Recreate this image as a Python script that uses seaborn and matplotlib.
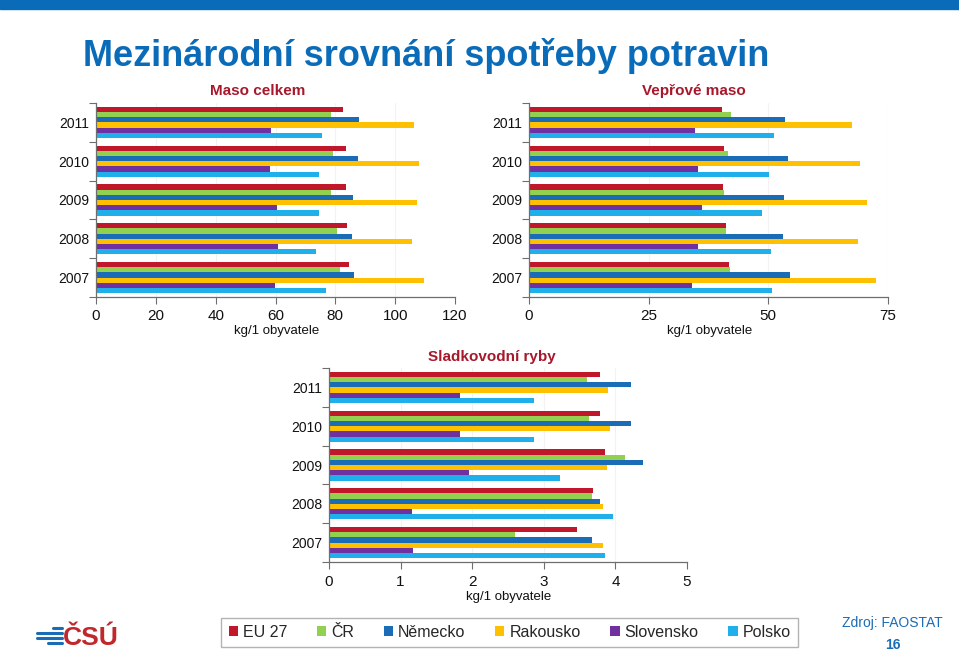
import matplotlib
matplotlib.use("Agg")
import matplotlib.pyplot as plt
import seaborn as sns
import pandas as pd
from matplotlib.patches import Patch, Rectangle
from matplotlib.lines import Line2D

years = ["2011", "2010", "2009", "2008", "2007"]
countries = ["EU 27", "ČR", "Německo", "Rakousko", "Slovensko", "Polsko"]
colors = ["#c0172a", "#92d050", "#1a6cb6", "#ffc000", "#7030a0", "#1fb0ec"]

# Maso celkem (kg/1 obyvatele), order of years as above
maso_eu = [82.6, 83.4, 83.7, 83.9, 84.6]
maso_cr = [78.5, 79.2, 78.7, 80.4, 81.4]
maso_de = [88.0, 87.5, 86.0, 85.7, 86.1]
maso_at = [106.4, 108.0, 107.4, 105.5, 109.8]
maso_sk = [58.5, 58.3, 60.4, 60.9, 59.9]
maso_pl = [75.6, 74.6, 74.6, 73.6, 76.8]

# Vepřové maso
vep_eu = [40.3, 40.8, 40.5, 41.1, 41.7]
vep_cr = [42.1, 41.6, 40.8, 41.2, 41.9]
vep_de = [53.4, 54.2, 53.3, 53.0, 54.5]
vep_at = [67.4, 69.2, 70.6, 68.8, 72.4]
vep_sk = [34.7, 35.4, 36.1, 35.4, 34.0]
vep_pl = [51.2, 50.2, 48.7, 50.5, 50.8]

# Sladkovodní ryby
ryby_eu = [3.78, 3.79, 3.85, 3.69, 3.46]
ryby_cr = [3.61, 3.63, 4.13, 3.68, 2.60]
ryby_de = [4.22, 4.22, 4.39, 3.78, 3.67]
ryby_at = [3.90, 3.92, 3.88, 3.83, 3.83]
ryby_sk = [1.83, 1.83, 1.96, 1.16, 1.17]
ryby_pl = [2.86, 2.86, 3.22, 3.96, 3.85]

x_ticks_maso = [0, 20, 40, 60, 80, 100, 120]
x_ticks_vep = [0, 25, 50, 75]
x_ticks_ryby = [0, 1, 2, 3, 4, 5]


def to_long(series_list):
    rows = []
    for c, vals in zip(countries, series_list):
        for y, v in zip(years, vals):
            rows.append({"rok": y, "zeme": c, "hodnota": v})
    return pd.DataFrame(rows)


sns.set_theme(style="white")
plt.rcParams["font.family"] = ["Liberation Sans", "DejaVu Sans"]

W, H = 959, 652
fig = plt.figure(figsize=(W / 100, H / 100), dpi=100)
fig.patch.set_facecolor("white")


def px_axes(x0, y0, x1, y1):
    return fig.add_axes([x0 / W, 1 - y1 / H, (x1 - x0) / W, (y1 - y0) / H])


AXC = "#6e6e6e"


def draw(ax, df, xticks, title, title_xy, xlabel_xy):
    sns.barplot(data=df, y="rok", x="hodnota", hue="zeme", order=years,
                hue_order=countries, palette=colors, orient="h", saturation=1,
                width=0.8, linewidth=0, ax=ax, legend=False, errorbar=None)
    ax.set_xlim(xticks[0], xticks[-1])
    ax.set_ylim(4.5, -0.5)
    ax.set_xticks(xticks)
    ax.set_xticklabels([str(t) for t in xticks], fontsize=11, color="#111111")
    ax.set_yticks(range(len(years)))
    ax.set_yticklabels(years, fontsize=10, color="#111111")
    ax.set_yticks([i - 0.5 for i in range(len(years) + 1)], minor=True)
    ax.tick_params(axis="y", which="major", length=0, pad=5)
    ax.tick_params(axis="y", which="minor", length=5, width=0.8, color=AXC, direction="out", left=True)
    ax.tick_params(axis="x", which="major", length=5, width=0.8, color=AXC, direction="out", bottom=True, pad=4)
    ax.grid(axis="x", color="#f2f2f2", linewidth=0.8)
    ax.set_axisbelow(True)
    for s in ["top", "right"]:
        ax.spines[s].set_visible(False)
    for s in ["left", "bottom"]:
        ax.spines[s].set_color(AXC)
        ax.spines[s].set_linewidth(0.9)
    ax.set_xlabel("")
    ax.set_ylabel("")
    fig.text(title_xy[0] / W, 1 - title_xy[1] / H, title, ha="center", va="center",
             fontsize=11, fontweight="bold", color="#a8182b")
    fig.text(xlabel_xy[0] / W, 1 - xlabel_xy[1] / H, "kg/1 obyvatele", ha="center",
             va="center", fontsize=9.5, color="#111111")


ax1 = px_axes(96, 103, 455, 297)
draw(ax1, to_long([maso_eu, maso_cr, maso_de, maso_at, maso_sk, maso_pl]),
     x_ticks_maso, "Maso celkem", (258, 91), (277, 331))

ax2 = px_axes(529, 103, 888, 297)
draw(ax2, to_long([vep_eu, vep_cr, vep_de, vep_at, vep_sk, vep_pl]),
     x_ticks_vep, "Vepřové maso", (694, 91), (710, 331))

ax3 = px_axes(329, 368, 687, 562)
draw(ax3, to_long([ryby_eu, ryby_cr, ryby_de, ryby_at, ryby_sk, ryby_pl]),
     x_ticks_ryby, "Sladkovodní ryby", (492, 357), (509, 597))

# top blue band
fig.patches.append(Rectangle((0, 1 - 9 / H), 1, 9 / H, transform=fig.transFigure,
                             color="#0a6cb8", zorder=0))

# main title
fig.text(83 / W, 1 - 56 / H, "Mezinárodní srovnání spotřeby potravin", ha="left",
         va="center", fontsize=26, fontweight="bold", color="#0a6cb8")

# legend
handles = [Patch(facecolor=c, edgecolor="none", label=l) for c, l in zip(colors, countries)]
leg = fig.legend(handles=handles, loc="center", bbox_to_anchor=(509.5 / W, 1 - 632.5 / H),
                 ncol=6, fontsize=11.5, frameon=True, handlelength=0.6, handleheight=0.6,
                 handletextpad=0.3, columnspacing=1.85, borderpad=0.45, fancybox=False)
leg.get_frame().set_edgecolor("#a0a0a0")
leg.get_frame().set_linewidth(1.0)

# source & page number
fig.text(892 / W, 1 - 623 / H, "Zdroj: FAOSTAT", ha="center", va="center",
         fontsize=10, color="#1a6cb6")
fig.text(893 / W, 1 - 645 / H, "16", ha="center", va="center", fontsize=10,
         fontweight="bold", color="#1a6cb6")

# logo
for yy, x0 in [(633, 37), (638, 37), (643, 48)]:
    fig.lines.append(Line2D([x0 / W, 62 / W], [1 - yy / H, 1 - yy / H],
                            transform=fig.transFigure, color="#1a6cb6", linewidth=2.2))
fig.lines.append(Line2D([53 / W, 62 / W], [1 - 628 / H, 1 - 628 / H],
                        transform=fig.transFigure, color="#1a6cb6", linewidth=2.2))
fig.text(63 / W, 1 - 638 / H, "ČSÚ", ha="left", va="center", fontsize=19,
         fontweight="bold", color="#c0282d")

fig.savefig("out.png", dpi=100, facecolor="white")
